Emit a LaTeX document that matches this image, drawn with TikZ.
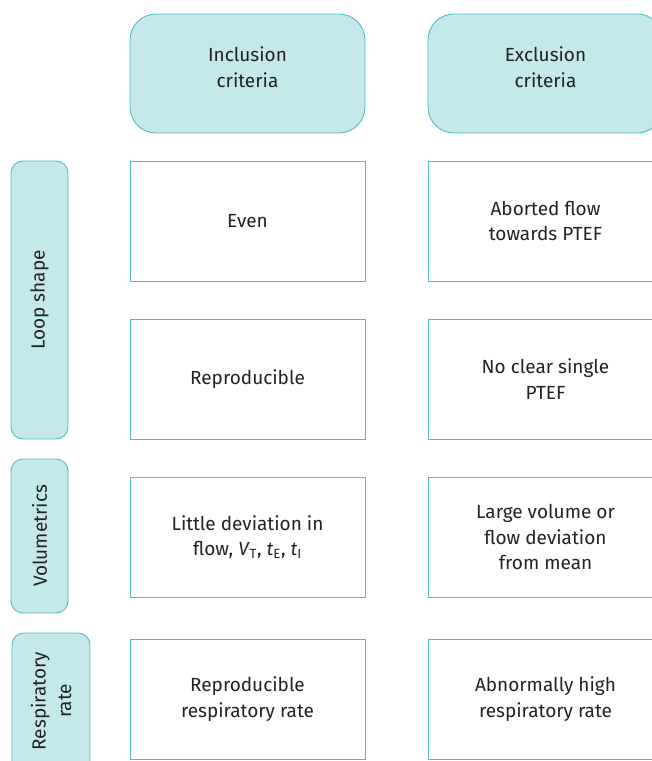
\documentclass[tikz,border=0pt]{standalone}
\usepackage{fontspec}
\setmainfont{Fira Sans}
\usepackage{xcolor}
\definecolor{tealfill}{HTML}{C5E8EA}
\definecolor{tealline}{HTML}{4FBDC6}
\definecolor{textgrey}{HTML}{222222}

\tikzset{
  header/.style={draw=tealline, fill=tealfill, line width=0.9pt, rounded corners=26pt,
    minimum width=235pt, minimum height=119pt, align=center, text=textgrey},
  cell/.style={draw=tealline, line width=0.9pt, minimum width=235pt, minimum height=120pt,
    align=center, text=textgrey},
  rowlabel/.style={draw=tealline, fill=tealfill, line width=0.9pt, rounded corners=12pt,
    align=center, text=textgrey, rotate=90},
}

\begin{document}
\begin{tikzpicture}[x=1pt, y=-1pt, font=\fontsize{19}{25.5}\selectfont]
  \useasboundingbox (0,0) rectangle (652,761);
  \clip (0,0) rectangle (652,761);

  \node[header] (inc) at (247.5, 73.5) {Inclusion\\criteria\\[-20pt]\strut};
  \node[header] (exc) at (545.5, 73.5) {Exclusion\\criteria\\[-20pt]\strut};

  \node[cell] (r1i) at (247.5, 221) {Even};
  \node[cell] (r1e) at (545.5, 221) {Aborted flow\\towards PTEF};
  \node[cell] (r2i) at (247.5, 379) {Reproducible};
  \node[cell] (r2e) at (545.5, 379) {No clear single\\PTEF};
  \node[cell] (r3i) at (247.5, 537) {Little deviation in\\flow, \textit{V}\textsubscript{T}, \textit{t}\textsubscript{E}, \textit{t}\textsubscript{I}};
  \node[cell] (r3e) at (545.5, 537) {Large volume or\\flow deviation\\from mean};
  \node[cell] (r4i) at (247.5, 699) {Reproducible\\respiratory rate};
  \node[cell] (r4e) at (545.5, 699) {Abnormally high\\respiratory rate};

  \node[rowlabel, minimum width=278pt, minimum height=57pt] (loop) at (39.5, 300) {Loop shape};
  \node[rowlabel, minimum width=154pt, minimum height=57pt] (vol) at (39.5, 536) {Volumetrics};
  \node[rowlabel, minimum width=150pt, minimum height=78pt] (resp) at (51, 708) {\hspace*{14pt}Respiratory\\\hspace*{14pt}rate};
\end{tikzpicture}
\end{document}
